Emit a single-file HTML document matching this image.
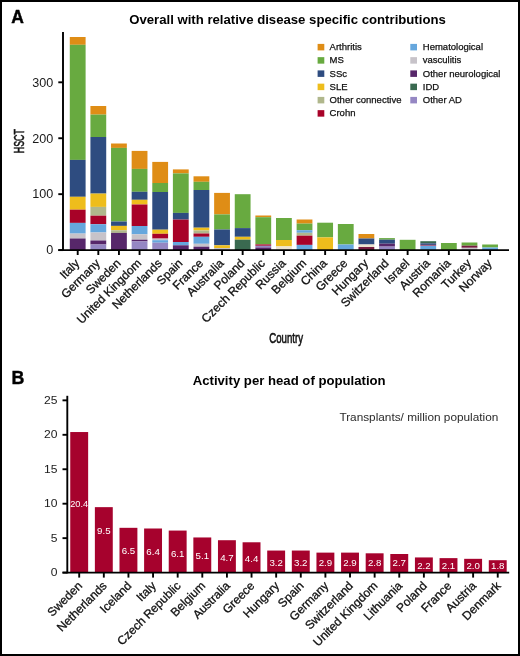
<!DOCTYPE html>
<html><head><meta charset="utf-8"><style>
html,body{margin:0;padding:0;background:#fff;}
body{width:520px;height:656px;overflow:hidden;position:relative;}
svg{position:absolute;left:0;top:0;will-change:transform;}
text{font-family:"Liberation Sans",sans-serif;fill:#1a1a1a;}
.ax{stroke:#000;stroke-width:1.9;}
.yl{font-size:12px;}
.yl2{font-size:11.5px;}
.xl{font-size:12px;fill:#111;stroke:#111;stroke-width:0.3px;}
.vl{font-size:9.7px;fill:#fff;}
.lg{font-size:9.5px;fill:#111;stroke:#111;stroke-width:0.25px;}
.t{font-size:13.17px;font-weight:bold;fill:#000;}
.pl{font-size:17.5px;font-weight:bold;fill:#000;stroke:#000;stroke-width:0.4px;}
.cd{font-size:14.5px;fill:#111;stroke:#111;stroke-width:0.6px;}
</style></head><body>
<svg width="520" height="656" viewBox="0 0 520 656">
<rect x="1" y="1" width="518" height="654" fill="#fff" stroke="#000" stroke-width="2"/>
<text x="11.2" y="23.4" class="pl">A</text>
<text x="11.6" y="383.7" class="pl" style="font-size:17.8px">B</text>
<text x="129.2" y="23.6" class="t">Overall with relative disease specific contributions</text>
<text x="192.7" y="385" class="t">Activity per head of population</text>
<text x="339.4" y="421.4" style="font-size:11.8px;fill:#2a2a2a">Transplants/ million population</text>
<text transform="translate(23.9,141.2) rotate(-90) scale(0.61,1)" class="cd" text-anchor="middle">HSCT</text>
<text transform="translate(286.1,342.8) scale(0.665,1)" class="cd" text-anchor="middle">Country</text>
<rect x="69.8" y="37" width="15.8" height="7.8" fill="#DF8D16"/>
<rect x="69.8" y="44.8" width="15.8" height="115.1" fill="#68AA40"/>
<rect x="69.8" y="159.9" width="15.8" height="36.9" fill="#2E4C80"/>
<rect x="69.8" y="196.8" width="15.8" height="12.9" fill="#EEBD1C"/>
<rect x="69.8" y="209.7" width="15.8" height="13.2" fill="#A80228"/>
<rect x="69.8" y="222.9" width="15.8" height="10.7" fill="#66A7DD"/>
<rect x="69.8" y="233.6" width="15.8" height="4.9" fill="#C7C3C9"/>
<rect x="69.8" y="238.5" width="15.8" height="11.5" fill="#57276A"/>
<rect x="90.42" y="106" width="15.8" height="8.6" fill="#DF8D16"/>
<rect x="90.42" y="114.6" width="15.8" height="22.4" fill="#68AA40"/>
<rect x="90.42" y="137" width="15.8" height="56.6" fill="#2E4C80"/>
<rect x="90.42" y="193.6" width="15.8" height="13.3" fill="#EEBD1C"/>
<rect x="90.42" y="206.9" width="15.8" height="8.8" fill="#B0B78C"/>
<rect x="90.42" y="215.7" width="15.8" height="8.5" fill="#A80228"/>
<rect x="90.42" y="224.2" width="15.8" height="8.3" fill="#66A7DD"/>
<rect x="90.42" y="232.5" width="15.8" height="8" fill="#C7C3C9"/>
<rect x="90.42" y="240.5" width="15.8" height="4" fill="#57276A"/>
<rect x="90.42" y="244.5" width="15.8" height="5.5" fill="#9587C3"/>
<rect x="111.04" y="143.5" width="15.8" height="4.4" fill="#DF8D16"/>
<rect x="111.04" y="147.9" width="15.8" height="73.6" fill="#68AA40"/>
<rect x="111.04" y="221.5" width="15.8" height="4.4" fill="#2E4C80"/>
<rect x="111.04" y="225.9" width="15.8" height="4.4" fill="#EEBD1C"/>
<rect x="111.04" y="230.3" width="15.8" height="2.6" fill="#B0B78C"/>
<rect x="111.04" y="232.9" width="15.8" height="17.1" fill="#57276A"/>
<rect x="131.66" y="150.9" width="15.8" height="18" fill="#DF8D16"/>
<rect x="131.66" y="168.9" width="15.8" height="22.9" fill="#68AA40"/>
<rect x="131.66" y="191.8" width="15.8" height="8" fill="#2E4C80"/>
<rect x="131.66" y="199.8" width="15.8" height="4.7" fill="#EEBD1C"/>
<rect x="131.66" y="204.5" width="15.8" height="21.5" fill="#A80228"/>
<rect x="131.66" y="226" width="15.8" height="8.3" fill="#66A7DD"/>
<rect x="131.66" y="234.3" width="15.8" height="5.4" fill="#C7C3C9"/>
<rect x="131.66" y="239.7" width="15.8" height="1.7" fill="#57276A"/>
<rect x="131.66" y="241.4" width="15.8" height="8.6" fill="#9587C3"/>
<rect x="152.28" y="161.9" width="15.8" height="21.1" fill="#DF8D16"/>
<rect x="152.28" y="183" width="15.8" height="9" fill="#68AA40"/>
<rect x="152.28" y="192" width="15.8" height="37.7" fill="#2E4C80"/>
<rect x="152.28" y="229.7" width="15.8" height="4.1" fill="#EEBD1C"/>
<rect x="152.28" y="233.8" width="15.8" height="4.8" fill="#A80228"/>
<rect x="152.28" y="238.6" width="15.8" height="1.6" fill="#C7C3C9"/>
<rect x="152.28" y="240.2" width="15.8" height="2.5" fill="#66A7DD"/>
<rect x="152.28" y="242.7" width="15.8" height="7.3" fill="#9587C3"/>
<rect x="172.9" y="169.4" width="15.8" height="4" fill="#DF8D16"/>
<rect x="172.9" y="173.4" width="15.8" height="39.5" fill="#68AA40"/>
<rect x="172.9" y="212.9" width="15.8" height="6.7" fill="#2E4C80"/>
<rect x="172.9" y="219.6" width="15.8" height="22.4" fill="#A80228"/>
<rect x="172.9" y="242" width="15.8" height="3.3" fill="#66A7DD"/>
<rect x="172.9" y="245.3" width="15.8" height="4.7" fill="#57276A"/>
<rect x="193.52" y="176.3" width="15.8" height="5.5" fill="#DF8D16"/>
<rect x="193.52" y="181.8" width="15.8" height="8.2" fill="#68AA40"/>
<rect x="193.52" y="190" width="15.8" height="37.7" fill="#2E4C80"/>
<rect x="193.52" y="227.7" width="15.8" height="2.8" fill="#EEBD1C"/>
<rect x="193.52" y="230.5" width="15.8" height="3" fill="#B0B78C"/>
<rect x="193.52" y="233.5" width="15.8" height="3.3" fill="#A80228"/>
<rect x="193.52" y="236.8" width="15.8" height="7" fill="#66A7DD"/>
<rect x="193.52" y="243.8" width="15.8" height="2.9" fill="#C7C3C9"/>
<rect x="193.52" y="246.7" width="15.8" height="3.3" fill="#57276A"/>
<rect x="214.14" y="192.9" width="15.8" height="21.5" fill="#DF8D16"/>
<rect x="214.14" y="214.4" width="15.8" height="15.1" fill="#68AA40"/>
<rect x="214.14" y="229.5" width="15.8" height="15.8" fill="#2E4C80"/>
<rect x="214.14" y="245.3" width="15.8" height="2.7" fill="#EEBD1C"/>
<rect x="214.14" y="248" width="15.8" height="2" fill="#C7C3C9"/>
<rect x="234.76" y="194.2" width="15.8" height="33.9" fill="#68AA40"/>
<rect x="234.76" y="228.1" width="15.8" height="8.7" fill="#2E4C80"/>
<rect x="234.76" y="236.8" width="15.8" height="2.9" fill="#EEBD1C"/>
<rect x="234.76" y="239.7" width="15.8" height="10.3" fill="#3A6A50"/>
<rect x="255.38" y="215.5" width="15.8" height="1.7" fill="#DF8D16"/>
<rect x="255.38" y="217.2" width="15.8" height="27.2" fill="#68AA40"/>
<rect x="255.38" y="244.4" width="15.8" height="1.4" fill="#A80228"/>
<rect x="255.38" y="245.8" width="15.8" height="1.7" fill="#9587C3"/>
<rect x="255.38" y="247.5" width="15.8" height="2.5" fill="#57276A"/>
<rect x="276" y="218" width="15.8" height="22" fill="#68AA40"/>
<rect x="276" y="240" width="15.8" height="6.4" fill="#EEBD1C"/>
<rect x="276" y="246.4" width="15.8" height="3.6" fill="#EDE3CF"/>
<rect x="296.62" y="219.5" width="15.8" height="4.1" fill="#DF8D16"/>
<rect x="296.62" y="223.6" width="15.8" height="6.6" fill="#68AA40"/>
<rect x="296.62" y="230.2" width="15.8" height="2.6" fill="#66A7DD"/>
<rect x="296.62" y="232.8" width="15.8" height="2.9" fill="#B0B78C"/>
<rect x="296.62" y="235.7" width="15.8" height="9.2" fill="#A80228"/>
<rect x="296.62" y="244.9" width="15.8" height="5.1" fill="#66A7DD"/>
<rect x="317.24" y="222.7" width="15.8" height="14.7" fill="#68AA40"/>
<rect x="317.24" y="237.4" width="15.8" height="12.6" fill="#EEBD1C"/>
<rect x="337.86" y="224" width="15.8" height="20.5" fill="#68AA40"/>
<rect x="337.86" y="244.5" width="15.8" height="5.5" fill="#66A7DD"/>
<rect x="358.48" y="234" width="15.8" height="4.5" fill="#DF8D16"/>
<rect x="358.48" y="238.5" width="15.8" height="6" fill="#2E4C80"/>
<rect x="358.48" y="244.5" width="15.8" height="2.5" fill="#EDE3CF"/>
<rect x="358.48" y="247" width="15.8" height="3" fill="#761C40"/>
<rect x="379.1" y="238.1" width="15.8" height="1.6" fill="#68AA40"/>
<rect x="379.1" y="239.7" width="15.8" height="4" fill="#2E4C80"/>
<rect x="379.1" y="243.7" width="15.8" height="2.9" fill="#57276A"/>
<rect x="379.1" y="246.6" width="15.8" height="3.4" fill="#9587C3"/>
<rect x="399.72" y="239.8" width="15.8" height="10.2" fill="#68AA40"/>
<rect x="420.34" y="241.2" width="15.8" height="2.1" fill="#3A6A50"/>
<rect x="420.34" y="243.3" width="15.8" height="1.6" fill="#2E4C80"/>
<rect x="420.34" y="244.9" width="15.8" height="0.8" fill="#A80228"/>
<rect x="420.34" y="245.7" width="15.8" height="4.3" fill="#66A7DD"/>
<rect x="440.96" y="243" width="15.8" height="7" fill="#68AA40"/>
<rect x="461.58" y="242.5" width="15.8" height="3.2" fill="#68AA40"/>
<rect x="461.58" y="245.7" width="15.8" height="2.1" fill="#761C40"/>
<rect x="461.58" y="247.8" width="15.8" height="2.2" fill="#C7C3C9"/>
<rect x="482.2" y="244.5" width="15.8" height="3" fill="#68AA40"/>
<rect x="482.2" y="247.5" width="15.8" height="2.5" fill="#66A7DD"/>
<line x1="63.0" y1="32" x2="63.0" y2="250.6" class="ax"/>
<line x1="58.3" y1="250.1" x2="509" y2="250.1" class="ax"/>
<line x1="58.3" y1="250.1" x2="63.0" y2="250.1" class="ax"/>
<text transform="translate(53.2,254.4) scale(1.05,1)" class="yl" text-anchor="end">0</text>
<line x1="58.3" y1="194.17" x2="63.0" y2="194.17" class="ax"/>
<text transform="translate(53.2,198.47) scale(1.05,1)" class="yl" text-anchor="end">100</text>
<line x1="58.3" y1="138.24" x2="63.0" y2="138.24" class="ax"/>
<text transform="translate(53.2,142.54) scale(1.05,1)" class="yl" text-anchor="end">200</text>
<line x1="58.3" y1="82.31" x2="63.0" y2="82.31" class="ax"/>
<text transform="translate(53.2,86.61) scale(1.05,1)" class="yl" text-anchor="end">300</text>
<line x1="77.7" y1="250.1" x2="77.7" y2="255" class="ax"/>
<text transform="translate(80.2,264) rotate(-45)" class="xl" text-anchor="end">Italy</text>
<line x1="98.32" y1="250.1" x2="98.32" y2="255" class="ax"/>
<text transform="translate(100.82,264) rotate(-45)" class="xl" text-anchor="end">Germany</text>
<line x1="118.94" y1="250.1" x2="118.94" y2="255" class="ax"/>
<text transform="translate(121.44,264) rotate(-45)" class="xl" text-anchor="end">Sweden</text>
<line x1="139.56" y1="250.1" x2="139.56" y2="255" class="ax"/>
<text transform="translate(142.06,264) rotate(-45)" class="xl" text-anchor="end">United Kingdom</text>
<line x1="160.18" y1="250.1" x2="160.18" y2="255" class="ax"/>
<text transform="translate(162.68,264) rotate(-45)" class="xl" text-anchor="end">Netherlands</text>
<line x1="180.8" y1="250.1" x2="180.8" y2="255" class="ax"/>
<text transform="translate(183.3,264) rotate(-45)" class="xl" text-anchor="end">Spain</text>
<line x1="201.42" y1="250.1" x2="201.42" y2="255" class="ax"/>
<text transform="translate(203.92,264) rotate(-45)" class="xl" text-anchor="end">France</text>
<line x1="222.04" y1="250.1" x2="222.04" y2="255" class="ax"/>
<text transform="translate(224.54,264) rotate(-45)" class="xl" text-anchor="end">Australia</text>
<line x1="242.66" y1="250.1" x2="242.66" y2="255" class="ax"/>
<text transform="translate(245.16,264) rotate(-45)" class="xl" text-anchor="end">Poland</text>
<line x1="263.28" y1="250.1" x2="263.28" y2="255" class="ax"/>
<text transform="translate(265.78,264) rotate(-45)" class="xl" text-anchor="end">Czech Republic</text>
<line x1="283.9" y1="250.1" x2="283.9" y2="255" class="ax"/>
<text transform="translate(286.4,264) rotate(-45)" class="xl" text-anchor="end">Russia</text>
<line x1="304.52" y1="250.1" x2="304.52" y2="255" class="ax"/>
<text transform="translate(307.02,264) rotate(-45)" class="xl" text-anchor="end">Belgium</text>
<line x1="325.14" y1="250.1" x2="325.14" y2="255" class="ax"/>
<text transform="translate(327.64,264) rotate(-45)" class="xl" text-anchor="end">China</text>
<line x1="345.76" y1="250.1" x2="345.76" y2="255" class="ax"/>
<text transform="translate(348.26,264) rotate(-45)" class="xl" text-anchor="end">Greece</text>
<line x1="366.38" y1="250.1" x2="366.38" y2="255" class="ax"/>
<text transform="translate(368.88,264) rotate(-45)" class="xl" text-anchor="end">Hungary</text>
<line x1="387" y1="250.1" x2="387" y2="255" class="ax"/>
<text transform="translate(389.5,264) rotate(-45)" class="xl" text-anchor="end">Switzerland</text>
<line x1="407.62" y1="250.1" x2="407.62" y2="255" class="ax"/>
<text transform="translate(410.12,264) rotate(-45)" class="xl" text-anchor="end">Israel</text>
<line x1="428.24" y1="250.1" x2="428.24" y2="255" class="ax"/>
<text transform="translate(430.74,264) rotate(-45)" class="xl" text-anchor="end">Austria</text>
<line x1="448.86" y1="250.1" x2="448.86" y2="255" class="ax"/>
<text transform="translate(451.36,264) rotate(-45)" class="xl" text-anchor="end">Romania</text>
<line x1="469.48" y1="250.1" x2="469.48" y2="255" class="ax"/>
<text transform="translate(471.98,264) rotate(-45)" class="xl" text-anchor="end">Turkey</text>
<line x1="490.1" y1="250.1" x2="490.1" y2="255" class="ax"/>
<text transform="translate(492.6,264) rotate(-45)" class="xl" text-anchor="end">Norway</text>
<rect x="70.25" y="432.04" width="17.9" height="140.56" fill="#A6022D"/>
<text x="79.2" y="506.95" class="vl" text-anchor="middle" style="font-size:9.2px">20.4</text>
<rect x="94.87" y="507.15" width="17.9" height="65.45" fill="#A6022D"/>
<text x="103.82" y="534.15" class="vl" text-anchor="middle">9.5</text>
<rect x="119.49" y="527.82" width="17.9" height="44.78" fill="#A6022D"/>
<text x="128.44" y="554.15" class="vl" text-anchor="middle">6.5</text>
<rect x="144.11" y="528.5" width="17.9" height="44.1" fill="#A6022D"/>
<text x="153.06" y="554.85" class="vl" text-anchor="middle">6.4</text>
<rect x="168.73" y="530.57" width="17.9" height="42.03" fill="#A6022D"/>
<text x="177.68" y="557.05" class="vl" text-anchor="middle">6.1</text>
<rect x="193.35" y="537.46" width="17.9" height="35.14" fill="#A6022D"/>
<text x="202.3" y="559.45" class="vl" text-anchor="middle">5.1</text>
<rect x="217.97" y="540.22" width="17.9" height="32.38" fill="#A6022D"/>
<text x="226.92" y="561.45" class="vl" text-anchor="middle">4.7</text>
<rect x="242.59" y="542.28" width="17.9" height="30.32" fill="#A6022D"/>
<text x="251.54" y="562.05" class="vl" text-anchor="middle">4.4</text>
<rect x="267.21" y="550.55" width="17.9" height="22.05" fill="#A6022D"/>
<text x="276.16" y="566.05" class="vl" text-anchor="middle">3.2</text>
<rect x="291.83" y="550.55" width="17.9" height="22.05" fill="#A6022D"/>
<text x="300.78" y="565.95" class="vl" text-anchor="middle">3.2</text>
<rect x="316.45" y="552.62" width="17.9" height="19.98" fill="#A6022D"/>
<text x="325.4" y="566.25" class="vl" text-anchor="middle">2.9</text>
<rect x="341.07" y="552.62" width="17.9" height="19.98" fill="#A6022D"/>
<text x="350.02" y="566.25" class="vl" text-anchor="middle">2.9</text>
<rect x="365.69" y="553.31" width="17.9" height="19.29" fill="#A6022D"/>
<text x="374.64" y="565.85" class="vl" text-anchor="middle">2.8</text>
<rect x="390.31" y="554" width="17.9" height="18.6" fill="#A6022D"/>
<text x="399.26" y="566.15" class="vl" text-anchor="middle">2.7</text>
<rect x="414.93" y="557.44" width="17.9" height="15.16" fill="#A6022D"/>
<text x="423.88" y="568.95" class="vl" text-anchor="middle">2.2</text>
<rect x="439.55" y="558.13" width="17.9" height="14.47" fill="#A6022D"/>
<text x="448.5" y="569.25" class="vl" text-anchor="middle">2.1</text>
<rect x="464.17" y="558.82" width="17.9" height="13.78" fill="#A6022D"/>
<text x="473.12" y="569.15" class="vl" text-anchor="middle">2.0</text>
<rect x="488.79" y="560.2" width="17.9" height="12.4" fill="#A6022D"/>
<text x="497.74" y="569.35" class="vl" text-anchor="middle">1.8</text>
<line x1="67.3" y1="395.8" x2="67.3" y2="573.3" class="ax"/>
<line x1="62.5" y1="572.6" x2="509.2" y2="572.6" class="ax"/>
<line x1="62.5" y1="572.6" x2="67.3" y2="572.6" class="ax"/>
<text transform="translate(57.5,576.1) scale(1.05,1)" class="yl2" text-anchor="end">0</text>
<line x1="62.5" y1="538.15" x2="67.3" y2="538.15" class="ax"/>
<text transform="translate(57.5,541.65) scale(1.05,1)" class="yl2" text-anchor="end">5</text>
<line x1="62.5" y1="503.7" x2="67.3" y2="503.7" class="ax"/>
<text transform="translate(57.5,507.2) scale(1.05,1)" class="yl2" text-anchor="end">10</text>
<line x1="62.5" y1="469.25" x2="67.3" y2="469.25" class="ax"/>
<text transform="translate(57.5,472.75) scale(1.05,1)" class="yl2" text-anchor="end">15</text>
<line x1="62.5" y1="434.8" x2="67.3" y2="434.8" class="ax"/>
<text transform="translate(57.5,438.3) scale(1.05,1)" class="yl2" text-anchor="end">20</text>
<line x1="62.5" y1="400.35" x2="67.3" y2="400.35" class="ax"/>
<text transform="translate(57.5,403.85) scale(1.05,1)" class="yl2" text-anchor="end">25</text>
<line x1="79.2" y1="572.6" x2="79.2" y2="577.6" class="ax"/>
<text transform="translate(83,586.5) rotate(-45)" class="xl" text-anchor="end">Sweden</text>
<line x1="103.82" y1="572.6" x2="103.82" y2="577.6" class="ax"/>
<text transform="translate(107.62,586.5) rotate(-45)" class="xl" text-anchor="end">Netherlands</text>
<line x1="128.44" y1="572.6" x2="128.44" y2="577.6" class="ax"/>
<text transform="translate(132.24,586.5) rotate(-45)" class="xl" text-anchor="end">Iceland</text>
<line x1="153.06" y1="572.6" x2="153.06" y2="577.6" class="ax"/>
<text transform="translate(156.86,586.5) rotate(-45)" class="xl" text-anchor="end">Italy</text>
<line x1="177.68" y1="572.6" x2="177.68" y2="577.6" class="ax"/>
<text transform="translate(181.48,586.5) rotate(-45)" class="xl" text-anchor="end">Czech Republic</text>
<line x1="202.3" y1="572.6" x2="202.3" y2="577.6" class="ax"/>
<text transform="translate(206.1,586.5) rotate(-45)" class="xl" text-anchor="end">Belgium</text>
<line x1="226.92" y1="572.6" x2="226.92" y2="577.6" class="ax"/>
<text transform="translate(230.72,586.5) rotate(-45)" class="xl" text-anchor="end">Australia</text>
<line x1="251.54" y1="572.6" x2="251.54" y2="577.6" class="ax"/>
<text transform="translate(255.34,586.5) rotate(-45)" class="xl" text-anchor="end">Greece</text>
<line x1="276.16" y1="572.6" x2="276.16" y2="577.6" class="ax"/>
<text transform="translate(279.96,586.5) rotate(-45)" class="xl" text-anchor="end">Hungary</text>
<line x1="300.78" y1="572.6" x2="300.78" y2="577.6" class="ax"/>
<text transform="translate(304.58,586.5) rotate(-45)" class="xl" text-anchor="end">Spain</text>
<line x1="325.4" y1="572.6" x2="325.4" y2="577.6" class="ax"/>
<text transform="translate(329.2,586.5) rotate(-45)" class="xl" text-anchor="end">Germany</text>
<line x1="350.02" y1="572.6" x2="350.02" y2="577.6" class="ax"/>
<text transform="translate(353.82,586.5) rotate(-45)" class="xl" text-anchor="end">Switzerland</text>
<line x1="374.64" y1="572.6" x2="374.64" y2="577.6" class="ax"/>
<text transform="translate(378.44,586.5) rotate(-45)" class="xl" text-anchor="end">United Kingdom</text>
<line x1="399.26" y1="572.6" x2="399.26" y2="577.6" class="ax"/>
<text transform="translate(403.06,586.5) rotate(-45)" class="xl" text-anchor="end">Lithuania</text>
<line x1="423.88" y1="572.6" x2="423.88" y2="577.6" class="ax"/>
<text transform="translate(427.68,586.5) rotate(-45)" class="xl" text-anchor="end">Poland</text>
<line x1="448.5" y1="572.6" x2="448.5" y2="577.6" class="ax"/>
<text transform="translate(452.3,586.5) rotate(-45)" class="xl" text-anchor="end">France</text>
<line x1="473.12" y1="572.6" x2="473.12" y2="577.6" class="ax"/>
<text transform="translate(476.92,586.5) rotate(-45)" class="xl" text-anchor="end">Austria</text>
<line x1="497.74" y1="572.6" x2="497.74" y2="577.6" class="ax"/>
<text transform="translate(501.54,586.5) rotate(-45)" class="xl" text-anchor="end">Denmark</text>
<rect x="317.6" y="43.9" width="6.7" height="6.5" fill="#DF8D16"/>
<text x="329.6" y="50.2" class="lg">Arthritis</text>
<rect x="317.6" y="57.15" width="6.7" height="6.5" fill="#68AA40"/>
<text x="329.6" y="63.45" class="lg">MS</text>
<rect x="317.6" y="70.4" width="6.7" height="6.5" fill="#2E4C80"/>
<text x="329.6" y="76.7" class="lg">SSc</text>
<rect x="317.6" y="83.65" width="6.7" height="6.5" fill="#EEBD1C"/>
<text x="329.6" y="89.95" class="lg">SLE</text>
<rect x="317.6" y="96.9" width="6.7" height="6.5" fill="#B0B78C"/>
<text x="329.6" y="103.2" class="lg">Other connective</text>
<rect x="317.6" y="110.15" width="6.7" height="6.5" fill="#A80228"/>
<text x="329.6" y="116.45" class="lg">Crohn</text>
<rect x="410.3" y="43.9" width="6.7" height="6.5" fill="#66A7DD"/>
<text x="422.8" y="50.2" class="lg">Hematological</text>
<rect x="410.3" y="57.15" width="6.7" height="6.5" fill="#C7C3C9"/>
<text x="422.8" y="63.45" class="lg">vasculitis</text>
<rect x="410.3" y="70.4" width="6.7" height="6.5" fill="#57276A"/>
<text x="422.8" y="76.7" class="lg">Other neurological</text>
<rect x="410.3" y="83.65" width="6.7" height="6.5" fill="#3A6A50"/>
<text x="422.8" y="89.95" class="lg">IDD</text>
<rect x="410.3" y="96.9" width="6.7" height="6.5" fill="#9587C3"/>
<text x="422.8" y="103.2" class="lg">Other AD</text>
</svg>
</body></html>
